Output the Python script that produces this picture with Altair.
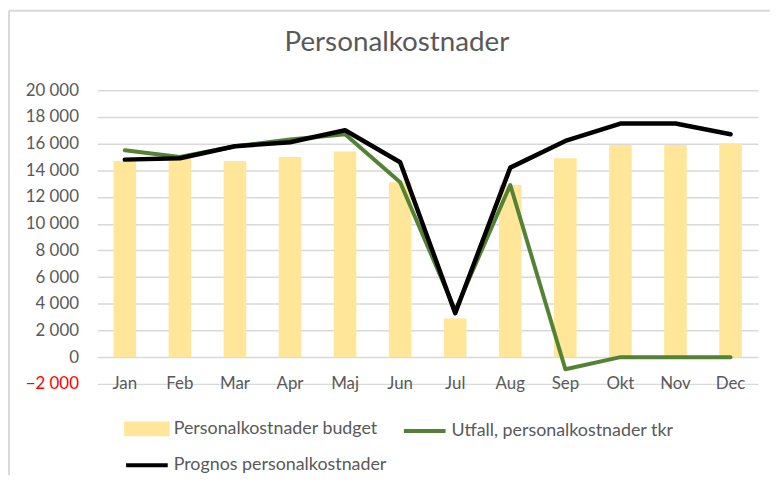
import altair as alt
import pandas as pd

months = ["Jan", "Feb", "Mar", "Apr", "Maj", "Jun", "Jul", "Aug", "Sep", "Okt", "Nov", "Dec"]
budget = [14700, 14900, 14700, 15000, 15400, 13100, 2900, 12900, 14900, 15900, 15900, 16000]
utfall = [15500, 15000, 15800, 16300, 16700, 13100, 3500, 12900, -900, 0, 0, 0]
prognos = [14800, 14900, 15800, 16100, 17000, 14600, 3300, 14200, 16200, 17500, 17500, 16700]
series_names = ["Personalkostnader budget", "Utfall, personalkostnader tkr", "Prognos personalkostnader"]
series_colors = ["#FFE699", "#548235", "#000000"]
y_ticks = list(range(-2000, 20001, 2000))

rows = []
for name, vals in zip(series_names, [budget, utfall, prognos]):
    for m, v in zip(months, vals):
        rows.append({"Month": m, "Series": name, "Value": v})
df = pd.DataFrame(rows)

FONT = "Lato"
TXT = "#595959"
IS_BAR = "datum.value === 'Personalkostnader budget'"

color_scale = alt.Scale(domain=series_names, range=series_colors)
legend = alt.Legend(
    title=None, orient="none", legendX=27, legendY=318, columns=2, direction="horizontal",
    values=series_names, padding=0,
    columnPadding=9, rowPadding=-1, symbolSize=1764, symbolOffset=0,
    symbolType=alt.expr(f"{IS_BAR} ? 'M-1,-0.26H1V0.26H-1Z' : 'stroke'"),
    labelFont=FONT, labelFontSize=18, labelColor=TXT, labelOffset=4, labelLimit=400,
    symbolStrokeWidth=4,
    symbolStrokeColor=alt.expr(f"{IS_BAR} ? 'transparent' : scale('color', datum.value)"),
    symbolFillColor=alt.expr(f"{IS_BAR} ? scale('color', datum.value) : 'transparent'"),
    symbolOpacity=1,
)

x = alt.X("Month:N", sort=months,
          scale=alt.Scale(paddingInner=0.59, paddingOuter=0.295),
          axis=alt.Axis(title=None, ticks=False, tickSize=0, domain=False, labelPadding=0,
                        labelBaseline="middle", labelAngle=0, grid=False,
                        labelFont=FONT, labelFontSize=17, labelColor=TXT))
y = alt.Y("Value:Q", scale=alt.Scale(domain=[-2000, 20000], nice=False),
          axis=alt.Axis(title=None, values=y_ticks, ticks=False, domain=False, labelPadding=19,
                        gridColor="#D9D9D9", gridWidth=1.5, labelFont=FONT, labelFontSize=17,
                        labelColor=alt.expr("datum.value < 0 ? '#FF0000' : '#595959'"),
                        labelExpr="replace(format(datum.value, ','), ',', ' ')"))
color = alt.Color("Series:N", scale=color_scale, legend=legend, sort=series_names)

base = alt.Chart(df)
bars = base.transform_filter(alt.datum.Series == series_names[0]).mark_bar().encode(x=x, y=y, color=color)
green = base.transform_filter(alt.datum.Series == series_names[1]).mark_line(
    strokeWidth=4, strokeJoin="round", strokeCap="round").encode(x=x, y=y, color=color)
black = base.transform_filter(alt.datum.Series == series_names[2]).mark_line(
    strokeWidth=4.5, strokeJoin="round", strokeCap="round").encode(x=x, y=y, color=color)

frame_df = pd.DataFrame({"k": [0]})
left_border = alt.Chart(frame_df).mark_rule(color="#D9D9D9", strokeWidth=2).encode(
    x=alt.value(-89), y=alt.value(-80), y2=alt.value(600))
top_border = alt.Chart(frame_df).mark_rule(color="#D9D9D9", strokeWidth=2).encode(
    x=alt.value(-89), x2=alt.value(900), y=alt.value(-80))

chart = alt.layer(left_border, top_border, bars, green, black).properties(
    width=666, height=296,
    title=alt.Title("Personalkostnader", font=FONT, fontSize=28, fontWeight="normal",
                    color=TXT, anchor="middle", dx=-31, offset=-70, baseline="alphabetic"),
    padding={"left": 90, "top": 81, "right": 12, "bottom": 90},
    autosize=alt.AutoSizeParams(type="none"),
).configure_view(stroke=None)

chart.save("out.html", embed_options={"renderer": "svg", "actions": False})
